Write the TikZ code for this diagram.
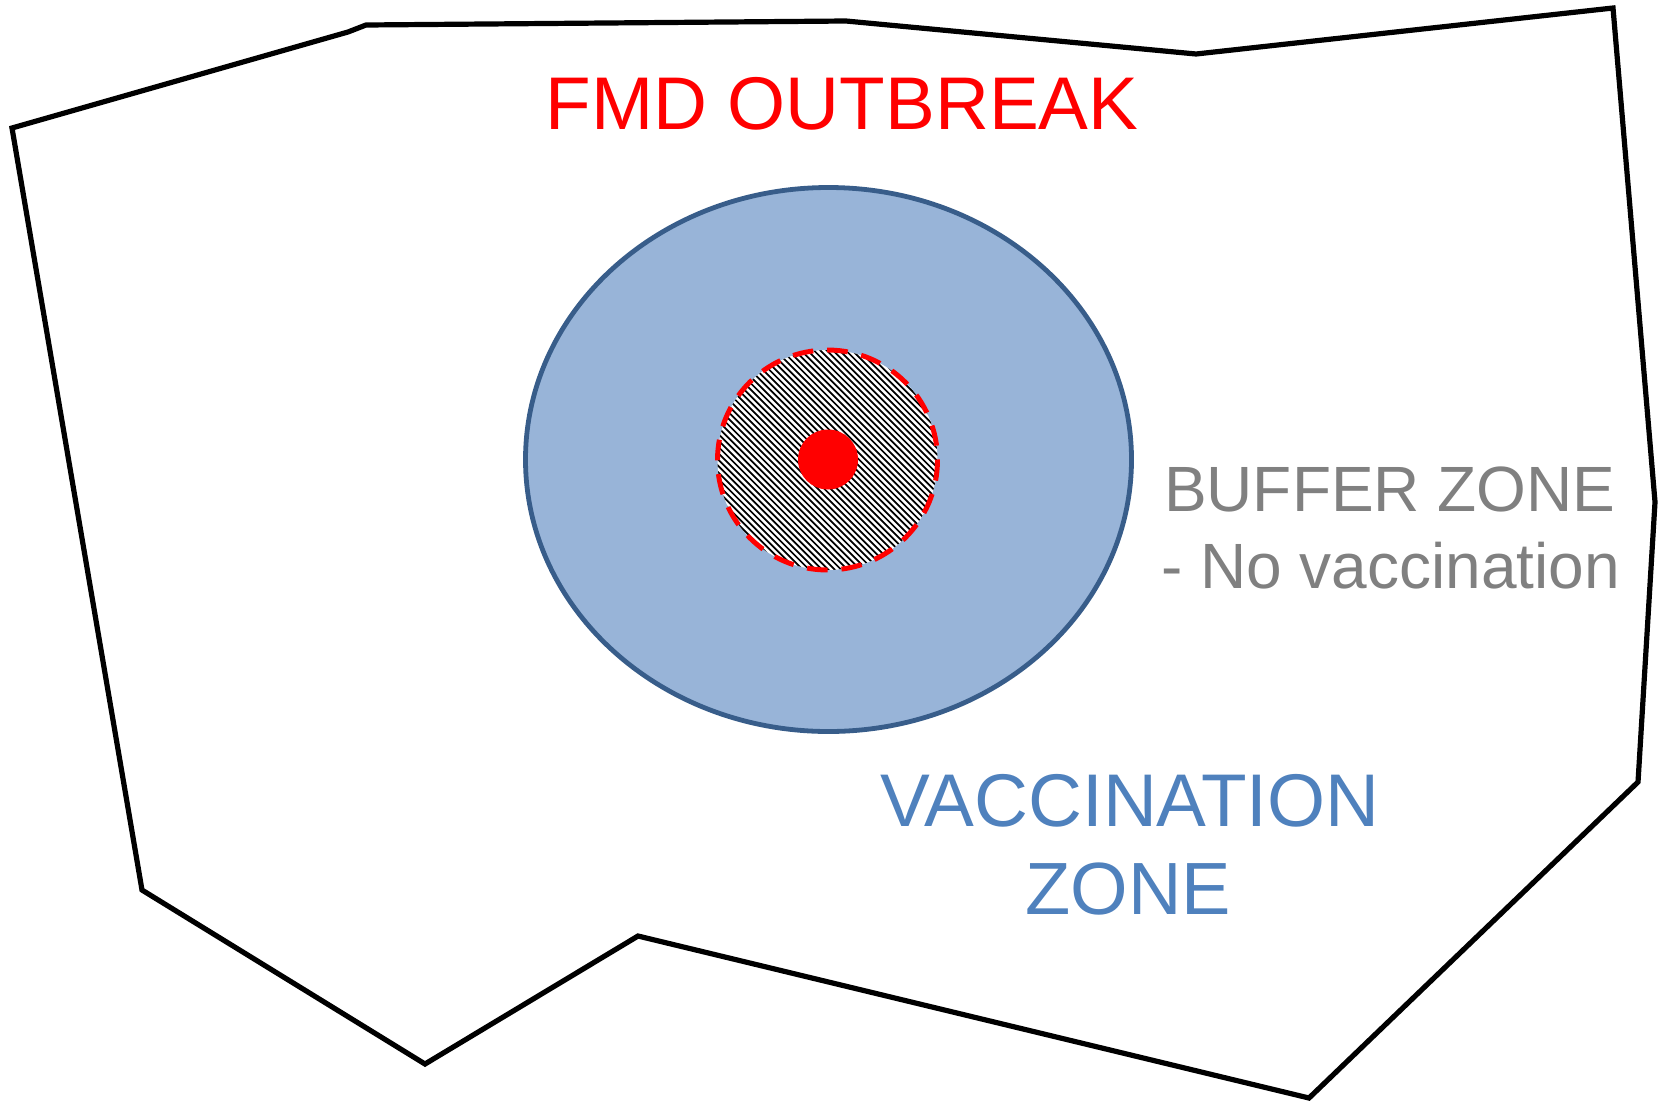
\documentclass[tikz,border=0pt]{standalone}
\usepackage{fontspec}
\setmainfont{Liberation Sans}
\definecolor{zonefill}{HTML}{98B4D8}
\definecolor{zoneline}{HTML}{385D8A}
\definecolor{zonetext}{HTML}{4F81BD}
\definecolor{buffertext}{HTML}{808080}
\tikzset{
  px/.style={x=0.75pt,y=-0.75pt},
  outline/.style={draw=black,line width=3.9pt,line join=miter},
  vaczone/.style={fill=zonefill,draw=zoneline,line width=3.6pt},
  dashring/.style={draw=red,line width=3.7pt,dash pattern=on 15.5pt off 10.4pt},
  label/.style={anchor=base,inner sep=0pt,outer sep=0pt},
}
\begin{document}
\begin{tikzpicture}[px]
\useasboundingbox (0,0) rectangle (1658,1100);
\draw[outline] (12,128) -- (348,32) -- (366,25) -- (846,21) -- (1196,54) -- (1613,8) -- (1655,502) -- (1638,782) -- (1309,1098) -- (638,936) -- (425,1064) -- (142,890) -- cycle;
\draw[vaczone] (828.5,459.5) ellipse [x radius=303,y radius=272];
\fill[white] (827.5,460) circle [radius=110];
\begin{scope}
  \clip (827.5,460) circle [radius=110];
  \foreach \k in {-42,...,42}
    \draw[black,line width=1.3pt] ({827.5+\k*6.4-130},330) -- ({827.5+\k*6.4+130},590);
\end{scope}
\draw[dashring] (827.5,460) circle [radius=110];
\fill[red] (828,459.5) circle [radius=30];
\node[label,text=red,font=\fontsize{56}{56}\selectfont] (fmd) at (842,129) {FMD OUTBREAK};
\node[label,text=buffertext,font=\fontsize{48}{48}\selectfont,anchor=base west] (buf) at (1164,511) {BUFFER ZONE};
\node[label,text=buffertext,font=\fontsize{48}{48}\selectfont,anchor=base west] (nov) at (1161,588) {- No vaccination};
\node[label,text=zonetext,font=\fontsize{56}{56}\selectfont] (vac) at (1130,826) {VACCINATION};
\node[label,text=zonetext,font=\fontsize{55.5}{56}\selectfont] (zone) at (1128,914) {ZONE};
\end{tikzpicture}
\end{document}
